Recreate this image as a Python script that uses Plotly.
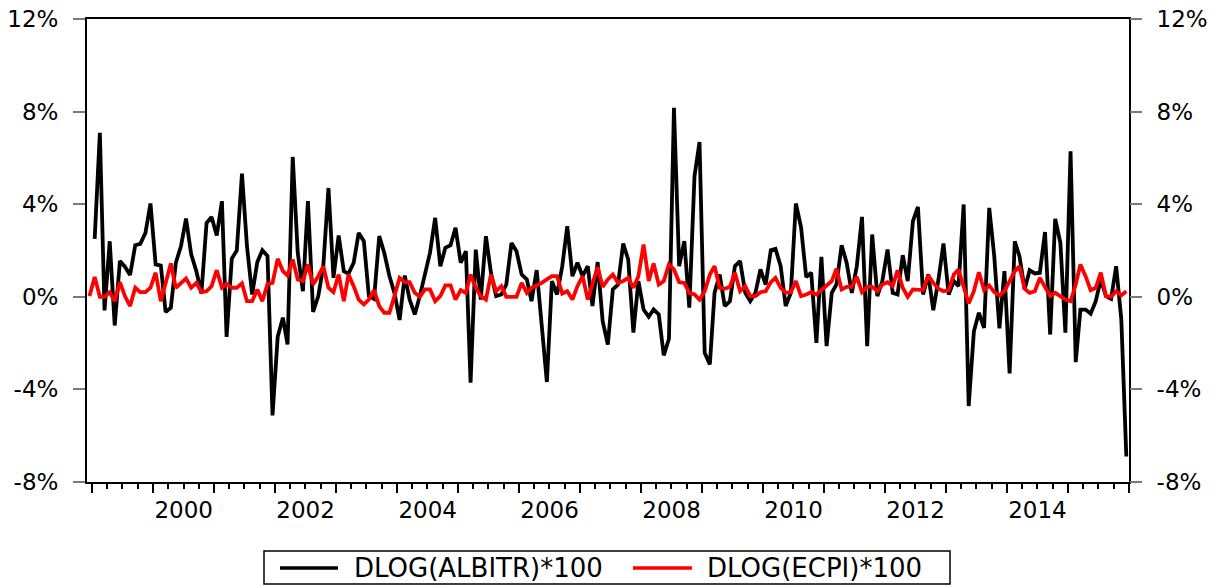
import pandas as pd
import plotly.graph_objects as go

# Monthly log-differences (x100), ALBITR from 1999m1, ECPI from 1998m12
albitr = [
    2.5, 7.08, -0.59, 2.4, -1.24, 1.55, 1.3, 0.94, 2.23, 2.29, 2.76, 4.03,
    1.4, 1.35, -0.66, -0.47, 1.47, 2.19, 3.38, 1.83, 1.1, 0.14, 3.19, 3.45,
    2.65, 4.13, -1.73, 1.65, 2.0, 5.32, 2.19, 0.1, 1.5, 2.01, 1.76, -5.12,
    -1.73, -0.9, -2.06, 6.04, 1.9, 0.24, 4.13, -0.65, 0.03, 1.32, 4.7, 0.82,
    2.65, 1.1, 1.0, 1.47, 2.76, 2.4, 0.03, -0.09, 2.62, 1.9, 0.9, 0.17,
    -1.0, 0.92, -0.12, -0.76, 0.03, 1.04, 1.9, 3.41, 1.32, 2.12, 2.23, 2.98,
    1.47, 1.97, -3.71, 2.04, -0.12, 2.62, 1.04, 0.03, 0.1, 0.53, 2.33, 1.97,
    0.96, 0.75, -0.19, 1.15, -1.27, -3.68, 0.68, 0.1, 1.32, 3.05, 0.89, 1.47,
    0.89, 1.32, -0.4, 1.5, -1.05, -2.06, 0.32, 0.53, 2.3, 1.61, -1.55, 0.68,
    -0.55, -0.86, -0.55, -0.76, -2.53, -1.81, 8.16, 1.32, 2.4, -0.47, 5.21, 6.69,
    -2.42, -2.92, 0.17, 0.96, -0.4, -0.19, 1.32, 1.54, 0.17, -0.19, 0.17, 1.18,
    0.53, 2.01, 2.07, 1.32, -0.4, 0.17, 4.03, 3.0, 0.85, 1.04, -1.99, 1.73,
    -2.13, 0.17, 0.53, 2.23, 1.47, 0.17, 1.32, 3.45, -2.13, 2.69, 0.03, 0.68,
    2.04, 0.17, 0.1, 1.8, 0.68, 3.27, 3.88, 0.1, 0.96, -0.58, 0.75, 2.3,
    0.1, 0.68, 0.46, 3.99, -4.72, -1.5, -0.69, -1.34, 3.84, 1.76, -1.36, 1.11,
    -3.31, 2.4, 1.76, 0.32, 1.15, 1.01, 1.04, 2.8, -1.63, 3.37, 2.33, -1.55,
    6.29, -2.82, -0.55, -0.55, -0.73, -0.19, 0.75, 0.03, -0.09, 1.32, -0.98, -6.9,
]

ecpi = [
    0.03,
    0.86, 0.0, 0.0, 0.2, -0.19, 0.63, 0.03, -0.4, 0.39, 0.2, 0.2, 0.39,
    1.04, -0.19, 0.68, 1.44, 0.39, 0.58, 0.79, 0.39, 0.6, 0.2, 0.24, 0.46,
    1.15, 0.39, 0.56, 0.39, 0.39, 0.58, -0.19, -0.19, 0.32, -0.19, 0.56, 0.6,
    1.64, 1.11, 0.92, 1.61, 0.75, 0.68, 1.4, 0.53, 0.89, 1.32, 0.39, 0.2,
    0.96, -0.19, 0.96, 0.46, -0.12, -0.33, -0.12, 0.29, -0.4, -0.69, -0.69, 0.03,
    0.82, 0.63, 0.63, 0.17, 0.0, 0.32, 0.32, -0.19, 0.03, 0.49, 0.49, -0.12,
    0.29, 0.17, 0.96, 0.39, 0.03, -0.12, 0.96, 0.24, 0.46, 0.0, 0.0, 0.0,
    0.6, 0.17, 0.39, 0.49, 0.6, 0.75, 0.89, 0.89, 0.14, 0.24, -0.12, 0.46,
    0.89, -0.12, 0.6, 1.29, 0.43, 0.75, 0.96, 0.6, 0.68, 0.82, 0.39, 0.89,
    2.26, 0.68, 1.44, 0.53, 0.68, 1.4, 1.18, 0.63, 0.6, 0.17, 0.1, -0.12,
    0.24, 0.96, 1.32, 0.39, 0.35, 0.43, 1.04, 0.24, 0.46, 0.03, 0.03, 0.2,
    0.24, 0.63, 0.82, 0.39, 0.17, 0.2, 0.68, 0.03, 0.1, 0.2, 0.1, 0.32,
    0.49, 0.68, 1.21, 0.32, 0.43, 0.43, 0.86, 0.2, 0.43, 0.43, 0.24, 0.53,
    0.63, 0.46, 1.14, 0.39, 0.0, 0.32, 0.32, 0.29, 0.92, 0.6, 0.35, 0.24,
    0.29, 0.96, 1.18, 0.39, -0.29, 0.24, 1.06, 0.29, 0.49, 0.2, 0.06, 0.24,
    0.68, 1.11, 1.32, 0.35, 0.17, 0.24, 0.82, 0.39, 0.03, 0.17, 0.0, -0.12,
    -0.19, 0.53, 1.4, 0.89, 0.29, 0.39, 1.04, 0.03, 0.0, 0.24, 0.06, 0.24,
]

series_names = ["DLOG(ALBITR)*100", "DLOG(ECPI)*100"]
y_ticks = [-8, -4, 0, 4, 8, 12]
y_tick_text = ["-8%", "-4%", "0%", "4%", "8%", "12%"]
year_labels = ["2000", "2002", "2004", "2006", "2008", "2010", "2012", "2014"]

# observations sit in the middle of each month
months = pd.period_range("1998-12", periods=len(ecpi), freq="M")
mid_month = months.to_timestamp() + pd.Timedelta(days=15)
dates_ecpi = mid_month
dates_albitr = mid_month[1:]

x_range = ["1998-12-01", "2016-01-01"]
label_pos = [f"{y}-07-02" for y in year_labels]

FONT = "DejaVu Sans"
TICK_SIZE = 23
fig = go.Figure()
fig.add_trace(go.Scatter(x=dates_albitr, y=albitr, mode="lines", name=series_names[0],
                         line=dict(color="black", width=3.8), xaxis="x", yaxis="y"))
fig.add_trace(go.Scatter(x=dates_ecpi, y=ecpi, mode="lines", name=series_names[1],
                         line=dict(color="#ff0000", width=3.8), xaxis="x2", yaxis="y2"))

yaxis_common = dict(range=[-8, 12], tickmode="array", tickvals=y_ticks, ticktext=y_tick_text,
                    ticks="outside", ticklen=12, tickwidth=1.5, tickcolor="#7a7a7a",
                    showgrid=False, zeroline=False, ticklabelstandoff=10, automargin=False,
                    tickfont=dict(family=FONT, size=TICK_SIZE, color="black"))

fig.update_layout(
    width=1220, height=588,
    margin=dict(l=87, r=91, t=19, b=106),
    plot_bgcolor="white", paper_bgcolor="white",
    showlegend=False,
    xaxis=dict(type="date", range=x_range, tickmode="linear", tick0="1999-01-01", dtick="M12",
               ticks="outside", ticklen=9, tickwidth=1.5, tickcolor="black",
               showticklabels=False, showgrid=False, zeroline=False, automargin=False,
               showline=True, linecolor="black", linewidth=2, mirror=True,
               minor=dict(dtick="M3", tick0="1999-01-01", ticks="outside", ticklen=5,
                          tickwidth=1.5, tickcolor="black", showgrid=False)),
    xaxis2=dict(type="date", range=x_range, overlaying="x", anchor="y2", side="bottom",
                tickmode="array", tickvals=label_pos, ticktext=year_labels,
                ticks="", showline=False, showgrid=False, zeroline=False, automargin=False,
                ticklabelstandoff=12,
                tickfont=dict(family=FONT, size=TICK_SIZE, color="black")),
    yaxis=dict(**yaxis_common, showline=True, linecolor="black", linewidth=2, mirror=True,
               anchor="x", side="left"),
    yaxis2=dict(**yaxis_common, overlaying="y", anchor="x2", side="right", showline=False),
)

# legend box below the plot
def px_x(px):
    return (px - 87) / 1042

def px_y(py):
    return (482 - py) / 463

legend_y = px_y(568)
fig.add_shape(type="rect", xref="paper", yref="paper",
              x0=px_x(264), x1=px_x(950), y0=px_y(584), y1=px_y(551),
              line=dict(color="black", width=1.5), fillcolor="white")
fig.add_shape(type="line", xref="paper", yref="paper",
              x0=px_x(280), x1=px_x(338), y0=legend_y, y1=legend_y,
              line=dict(color="black", width=3.5))
fig.add_shape(type="line", xref="paper", yref="paper",
              x0=px_x(633), x1=px_x(692), y0=legend_y, y1=legend_y,
              line=dict(color="#ff0000", width=3.5))
for name, left in zip(series_names, [352, 705]):
    fig.add_annotation(text=name, xref="paper", yref="paper", x=px_x(left), y=legend_y,
                       xanchor="left", yanchor="middle", showarrow=False,
                       font=dict(family=FONT, size=26, color="black"))

fig.write_html("out.html")
